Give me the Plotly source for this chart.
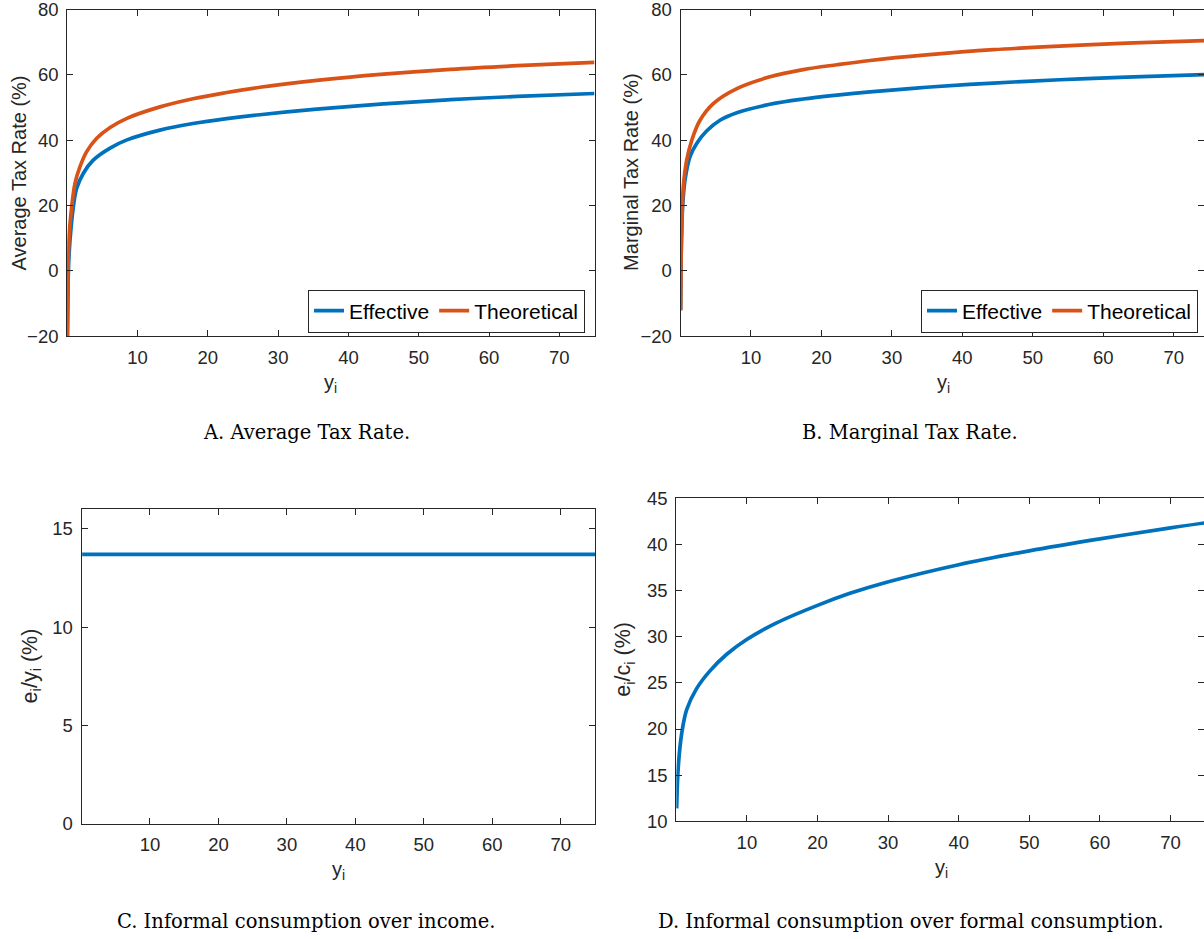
import plotly.graph_objects as go

# ---------------- data ----------------
# Panel A: Average tax rate
a_eff_x = [0.03, 0.1, 0.2, 0.4, 0.87, 1.35, 2.3, 3.7, 6.1, 8.5, 13.2, 17.9, 22.7, 27.4, 35.5, 45, 54.5, 64, 75]
a_eff_y = [-20, -8, 2, 9.4, 19.6, 25.3, 29.9, 33.9, 37.6, 40.1, 43.1, 45.1, 46.6, 47.8, 49.5, 51.1, 52.4, 53.4, 54.3]
a_th_x = [0.03, 0.1, 0.16, 0.35, 0.64, 1.11, 1.82, 2.77, 4.2, 6.1, 8.5, 13.2, 17.9, 22.7, 27.4, 35.5, 45, 54.5, 64, 75]
a_th_y = [-20, -4, 4.4, 13, 19.6, 26.8, 31.9, 36.5, 40.6, 43.9, 46.7, 50.2, 52.7, 54.6, 56.2, 58.3, 60.2, 61.7, 62.8, 63.8]

# Panel B: Marginal tax rate
b_eff_x = [0.02, 0.1, 0.3, 0.64, 1.35, 2.3, 3.7, 5.6, 8.0, 12.7, 17.4, 22.2, 26.9, 34.9, 44.4, 53.8, 63.3, 75]
b_eff_y = [-12, 5, 19.6, 27.8, 35.0, 39.0, 42.8, 46.1, 48.4, 51.0, 52.6, 53.8, 54.8, 56.2, 57.5, 58.5, 59.3, 60.1]
b_th_x = [0.02, 0.1, 0.2, 0.4, 0.88, 1.6, 2.77, 4.65, 8.0, 12.7, 17.4, 22.2, 26.9, 34.9, 44.4, 53.8, 63.3, 75]
b_th_y = [-12, 6, 15.6, 25.8, 33.9, 40.0, 46.1, 51.2, 55.8, 59.4, 61.6, 63.1, 64.4, 66.1, 67.7, 68.8, 69.7, 70.5]

# Panel C: informal consumption over income
c_x = [0.1, 75]
c_y = [13.7, 13.7]

# Panel D: informal over formal consumption
d_x = [0.05, 0.28, 0.76, 1.47, 2.89, 4.77, 7.14, 9.97, 14.2, 20, 24.6, 29.8, 40, 50, 60, 70, 75]
d_y = [11.4, 15.9, 19.5, 22.1, 24.4, 26.3, 28.1, 29.7, 31.5, 33.4, 34.7, 35.9, 37.8, 39.3, 40.6, 41.8, 42.35]

x_ticks = [10, 20, 30, 40, 50, 60, 70]
ab_y_ticks = [-20, 0, 20, 40, 60, 80]
c_y_ticks = [0, 5, 10, 15]
d_y_ticks = [10, 15, 20, 25, 30, 35, 40, 45]

captions = ["A. Average Tax Rate.", "B. Marginal Tax Rate.",
            "C. Informal consumption over income.",
            "D. Informal consumption over formal consumption."]
y_titles = ["Average Tax Rate (%)", "Marginal Tax Rate (%)",
            "e<sub>i</sub>/y<sub>i</sub> (%)", "e<sub>i</sub>/c<sub>i</sub> (%)"]
series_names = ["Effective", "Theoretical"]

# ---------------- styling ----------------
W, H = 1204, 939
BLUE = "#0072BD"
ORANGE = "#D95319"
AX = "#262626"
SANS = "Liberation Sans, Arial, sans-serif"
TICKFONT = dict(family=SANS, size=18.5, color=AX)
LW = 3.7

def px_x(p):
    return p / W

def px_y(p):
    return 1 - p / H

fig = go.Figure()

line_kw = dict(mode="lines", line_shape="spline")
fig.add_trace(go.Scatter(x=a_eff_x, y=a_eff_y, name=series_names[0], line=dict(color=BLUE, width=LW),
                         xaxis="x", yaxis="y", legend="legend", **line_kw))
fig.add_trace(go.Scatter(x=a_th_x, y=a_th_y, name=series_names[1], line=dict(color=ORANGE, width=LW),
                         xaxis="x", yaxis="y", legend="legend", **line_kw))
fig.add_trace(go.Scatter(x=b_eff_x, y=b_eff_y, name=series_names[0], line=dict(color=BLUE, width=LW),
                         xaxis="x2", yaxis="y2", legend="legend2", **line_kw))
fig.add_trace(go.Scatter(x=b_th_x, y=b_th_y, name=series_names[1], line=dict(color=ORANGE, width=LW),
                         xaxis="x2", yaxis="y2", legend="legend2", **line_kw))
fig.add_trace(go.Scatter(x=c_x, y=c_y, showlegend=False, line=dict(color=BLUE, width=LW),
                         xaxis="x3", yaxis="y3", mode="lines"))
fig.add_trace(go.Scatter(x=d_x, y=d_y, showlegend=False, line=dict(color=BLUE, width=LW),
                         xaxis="x4", yaxis="y4", **line_kw))

def xax(domain, rng, anchor):
    return dict(domain=domain, range=rng, anchor=anchor, tickvals=x_ticks,
                ticks="inside", ticklen=6, tickwidth=1, tickcolor=AX,
                showline=True, linecolor=AX, linewidth=1, mirror="ticks",
                showgrid=False, zeroline=False, tickfont=TICKFONT,
                ticklabelstandoff=4, ticklabeloverflow="allow",
                automargin=False, fixedrange=True)

def yax(domain, rng, anchor, tv):
    return dict(domain=domain, range=rng, anchor=anchor, tickvals=tv,
                ticks="inside", ticklen=6, tickwidth=1, tickcolor=AX,
                showline=True, linecolor=AX, linewidth=1, mirror="ticks",
                showgrid=False, zeroline=False, tickfont=TICKFONT,
                ticklabelstandoff=4, ticklabeloverflow="allow",
                automargin=False, fixedrange=True)

# pixel geometry of the four plot boxes
A = dict(l=67.2, r=594.5, t=9.5, b=336.3)
B = dict(l=680.5, r=1204, t=9.5, b=336.3)
C = dict(l=81.5, r=595, t=509.3, b=823.5)
D = dict(l=676.3, r=1204, t=498.3, b=821.3)

def dom(box):
    return [px_x(box["l"]), min(1, px_x(box["r"]))], [px_y(box["b"]), px_y(box["t"])]

ax_dom, ay_dom = dom(A)
bx_dom, by_dom = dom(B)
cx_dom, cy_dom = dom(C)
dx_dom, dy_dom = dom(D)

fig.update_layout(
    width=W, height=H, margin=dict(l=0, r=0, t=0, b=0, autoexpand=False),
    paper_bgcolor="white", plot_bgcolor="white",
    xaxis=xax(ax_dom, [0, 75], "y"),
    yaxis=yax(ay_dom, [-20, 80], "x", ab_y_ticks),
    xaxis2=xax(bx_dom, [0, 74.3], "y2"),
    yaxis2=yax(by_dom, [-20, 80], "x2", ab_y_ticks),
    xaxis3=xax(cx_dom, [0, 75], "y3"),
    yaxis3=yax(cy_dom, [0, 16], "x3", c_y_ticks),
    xaxis4=xax(dx_dom, [0, 74.75], "y4"),
    yaxis4=yax(dy_dom, [10, 45], "x4", d_y_ticks),
    showlegend=True,
)

legend_common = dict(orientation="h", bgcolor="white", bordercolor=AX, borderwidth=1,
                     font=dict(family=SANS, size=21, color="black"),
                     xanchor="right", yanchor="middle", itemwidth=30,
                     tracegroupgap=0)
fig.update_layout(
    legend=dict(x=px_x(585), y=px_y(311), **legend_common),
    legend2=dict(x=px_x(1198), y=px_y(311), **legend_common),
)

annos = []
label_font = dict(family=SANS, size=20, color=AX)
sub_label_font = dict(family=SANS, size=21.5, color=AX)
cap_font = dict(family="DejaVu Serif, serif", size=19.5, color="black")
boxes = [A, B, C, D]
ytitle_x = [18.5, 631, 31, 625]
for i, box in enumerate(boxes):
    right = 1206 if i in (1, 3) else box["r"]
    cx = (box["l"] + right) / 2
    cy = (box["t"] + box["b"]) / 2
    # x title
    annos.append(dict(text="y<sub>i</sub>", x=px_x(cx), y=px_y(box["b"] + 47), xref="paper", yref="paper",
                      xanchor="center", yanchor="middle", showarrow=False, font=label_font))
    # y title
    annos.append(dict(text=y_titles[i], x=px_x(ytitle_x[i]), y=px_y(cy), xref="paper", yref="paper",
                      xanchor="center", yanchor="middle", textangle=-90, showarrow=False,
                      font=label_font if i < 2 else sub_label_font))
cap_pos = [(306, 432), (910, 432), (306, 921), (911, 921)]
for (cx, cy), t in zip(cap_pos, captions):
    annos.append(dict(text=t, x=px_x(cx), y=px_y(cy), xref="paper", yref="paper",
                      xanchor="center", yanchor="middle", showarrow=False, font=cap_font))
fig.update_layout(annotations=annos)

fig.write_html("out.html")
